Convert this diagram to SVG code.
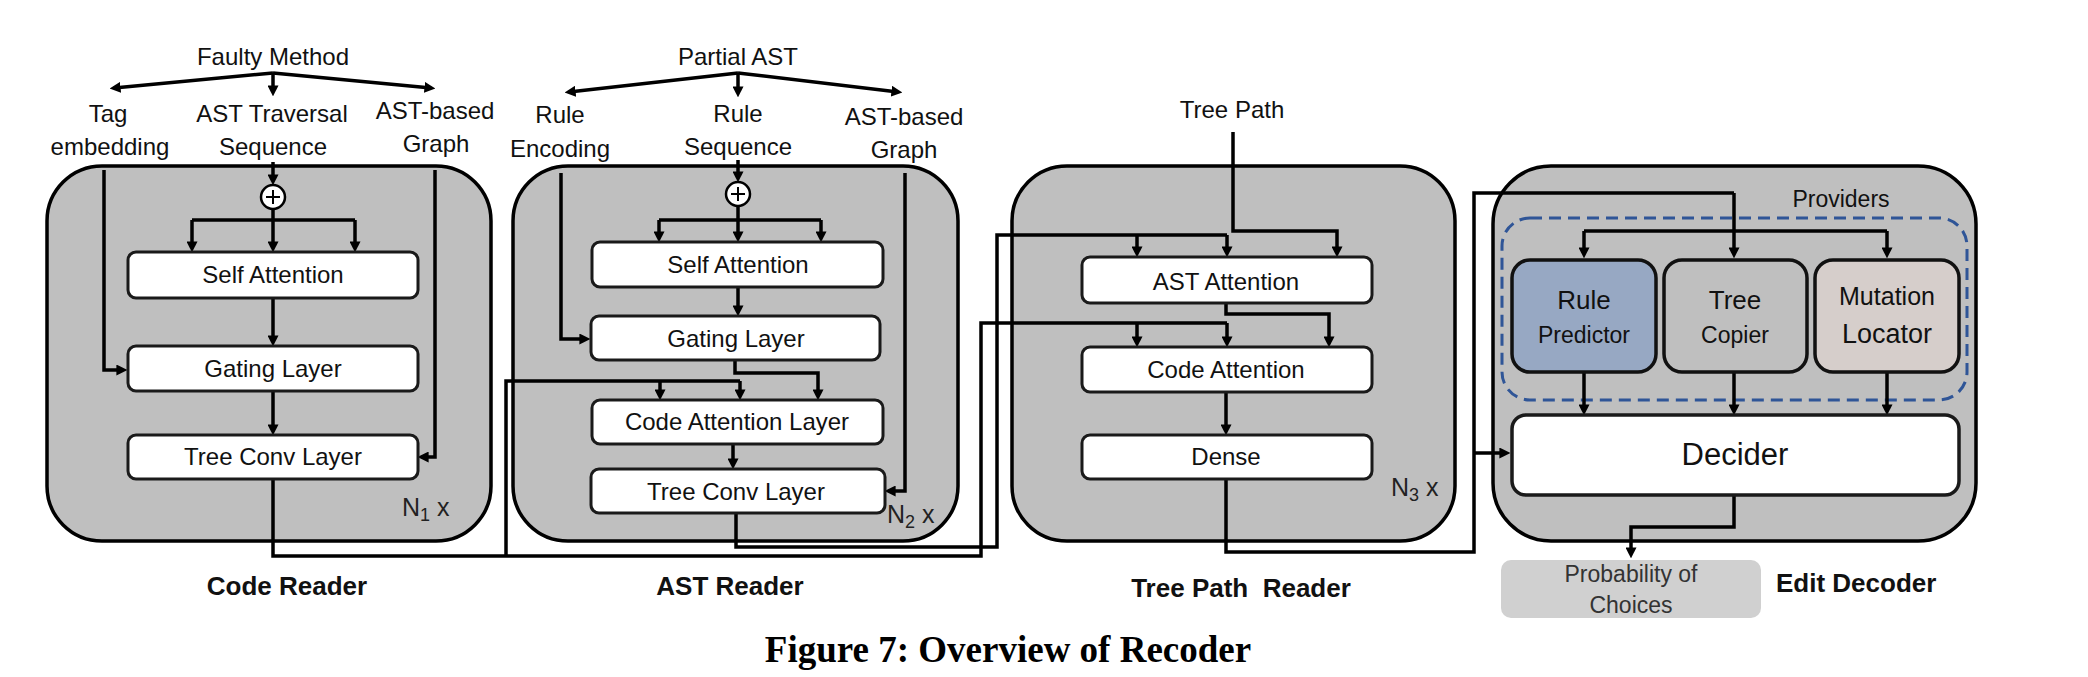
<svg xmlns="http://www.w3.org/2000/svg" width="2088" height="677" viewBox="0 0 2088 677">
<defs>
<marker id="ah" viewBox="0 0 10 10" refX="6" refY="5" markerWidth="11" markerHeight="11" markerUnits="userSpaceOnUse" orient="auto"><path d="M0,0 L10,5 L0,10 z" fill="#000"/></marker>
<style>
.panel{fill:#bfbfbf;stroke:#000;stroke-width:3.5}
.box{fill:#fff;stroke:#1a1a1a;stroke-width:3}
.t{font-family:"Liberation Sans",Arial,sans-serif;font-size:24px;fill:#111;text-anchor:middle}
.b{font-family:"Liberation Sans",Arial,sans-serif;font-size:26px;font-weight:bold;fill:#111;text-anchor:middle}
.c{fill:none;stroke:#000;stroke-width:3.5}
.ca{fill:none;stroke:#000;stroke-width:3.5;marker-end:url(#ah)}
.n{font-family:"Liberation Sans",Arial,sans-serif;font-size:25px;fill:#222}
</style>
</defs>
<rect width="2088" height="677" fill="#fff"/>

<g id="code-reader">
<rect class="panel" x="47" y="166" width="444" height="375" rx="55"/>
<text class="n" x="402" y="516">N<tspan font-size="18" dy="5">1</tspan><tspan dy="-5"> x</tspan></text>
</g>
<g id="ast-reader">
<rect class="panel" x="513" y="166" width="445" height="375" rx="55"/>
<text class="n" x="887" y="523">N<tspan font-size="18" dy="5">2</tspan><tspan dy="-5"> x</tspan></text>
</g>
<g id="tree-path-reader">
<rect class="panel" x="1012" y="166" width="443" height="375" rx="55"/>
<text class="n" x="1391" y="496">N<tspan font-size="18" dy="5">3</tspan><tspan dy="-5"> x</tspan></text>
</g>
<g id="edit-decoder">
<rect class="panel" x="1493" y="166" width="483" height="375" rx="58"/>
</g>
<g id="providers">
<rect x="1502" y="218" width="465" height="182" rx="28" fill="none" stroke="#2f5597" stroke-width="3" stroke-dasharray="12 7"/>
<text class="t" x="1841" y="207" style="font-size:23px">Providers</text>
</g>

<g id="connectors">
<path class="ca" d="M273,73 L114,88"/>
<path class="ca" d="M273,73 L431,88"/>
<path class="ca" d="M273,73 L273,92"/>
<path class="ca" d="M273,162 L273,181"/>
<path class="c" d="M192,220 L355,220"/>
<path class="ca" d="M273,209 L273,248"/>
<path class="ca" d="M192,220 L192,248"/>
<path class="ca" d="M355,220 L355,248"/>
<path class="ca" d="M273,298 L273,342"/>
<path class="ca" d="M273,391 L273,431"/>
<path class="ca" d="M104,170 L104,370 L123,370"/>
<path class="ca" d="M435,170 L435,457 L422,457"/>
<path class="c" d="M273,479 L273,556 L981,556 L981,323 L1227,323"/>
<path class="ca" d="M1137,323 L1137,343"/>
<path class="ca" d="M1227,323 L1227,343"/>
<path class="c" d="M506,556 L506,381 L740,381"/>
<path class="ca" d="M660,381 L660,396"/>
<path class="ca" d="M740,381 L740,396"/>
<path class="ca" d="M738,73 L569,92"/>
<path class="ca" d="M738,73 L898,92"/>
<path class="ca" d="M738,73 L738,93"/>
<path class="ca" d="M738,160 L738,178"/>
<path class="c" d="M659,220 L821,220"/>
<path class="ca" d="M738,206 L738,238"/>
<path class="ca" d="M659,220 L659,238"/>
<path class="ca" d="M821,220 L821,238"/>
<path class="ca" d="M738,287 L738,312"/>
<path class="ca" d="M561,173 L561,339 L586,339"/>
<path class="ca" d="M735,360 L735,373 L818,373 L818,396"/>
<path class="ca" d="M733,444 L733,465"/>
<path class="ca" d="M905,173 L905,491 L889,491"/>
<path class="c" d="M736,513 L736,547 L997,547 L997,235 L1227,235"/>
<path class="ca" d="M1137,235 L1137,253"/>
<path class="ca" d="M1227,235 L1227,253"/>
<path class="ca" d="M1233,132 L1233,231 L1337,231 L1337,253"/>
<path class="ca" d="M1226,303 L1226,314 L1329,314 L1329,343"/>
<path class="ca" d="M1226,392 L1226,431"/>
<path class="c" d="M1226,479 L1226,552 L1474,552 L1474,193 L1734,193"/>
<path class="ca" d="M1734,193 L1734,254"/>
<path class="ca" d="M1474,453 L1506,453"/>
<path class="c" d="M1584,231 L1887,231"/>
<path class="ca" d="M1584,231 L1584,254"/>
<path class="ca" d="M1887,231 L1887,254"/>
<path class="ca" d="M1584,372 L1584,411"/>
<path class="ca" d="M1734,372 L1734,411"/>
<path class="ca" d="M1887,372 L1887,411"/>
<path class="ca" d="M1734,495 L1734,527 L1631,527 L1631,554"/>
</g>

<g id="labels">
<text class="t" x="273" y="65">Faulty Method</text>
<text class="t" x="108" y="122">Tag</text>
<text class="t" x="110" y="155">embedding</text>
<text class="t" x="272" y="122">AST Traversal</text>
<text class="t" x="273" y="155">Sequence</text>
<text class="t" x="435" y="119">AST-based</text>
<text class="t" x="436" y="152">Graph</text>
<text class="t" x="738" y="65">Partial AST</text>
<text class="t" x="560" y="123">Rule</text>
<text class="t" x="560" y="157">Encoding</text>
<text class="t" x="738" y="122">Rule</text>
<text class="t" x="738" y="155">Sequence</text>
<text class="t" x="904" y="125">AST-based</text>
<text class="t" x="904" y="158">Graph</text>
<text class="t" x="1232" y="118">Tree Path</text>
<text class="b" x="287" y="595">Code Reader</text>
<text class="b" x="730" y="595">AST Reader</text>
<text class="b" x="1241" y="597" xml:space="preserve">Tree Path  Reader</text>
<text class="b" x="1776" y="592" style="text-anchor:start">Edit Decoder</text>
<text x="1008" y="662" style="font-family:'Liberation Serif','Times New Roman',serif;font-size:37px;font-weight:bold;text-anchor:middle;fill:#000">Figure 7: Overview of Recoder</text>
</g>

<g id="sum1"><circle cx="273" cy="197" r="12" fill="#fff" stroke="#000" stroke-width="2.5"/><path d="M266,197 H280 M273,190 V204" stroke="#000" stroke-width="2"/></g>
<g id="sum2"><circle cx="738" cy="194" r="12" fill="#fff" stroke="#000" stroke-width="2.5"/><path d="M731,194 H745 M738,187 V201" stroke="#000" stroke-width="2"/></g>

<g id="cr-self-attention"><rect class="box" x="128" y="252" width="290" height="46" rx="8"/><text class="t" x="273" y="283">Self Attention</text></g>
<g id="cr-gating"><rect class="box" x="128" y="346" width="290" height="45" rx="8"/><text class="t" x="273" y="377">Gating Layer</text></g>
<g id="cr-treeconv"><rect class="box" x="128" y="435" width="290" height="44" rx="8"/><text class="t" x="273" y="465">Tree Conv  Layer</text></g>

<g id="ar-self-attention"><rect class="box" x="592" y="242" width="291" height="45" rx="8"/><text class="t" x="738" y="273">Self Attention</text></g>
<g id="ar-gating"><rect class="box" x="591" y="316" width="289" height="44" rx="8"/><text class="t" x="736" y="347">Gating Layer</text></g>
<g id="ar-code-attention"><rect class="box" x="592" y="400" width="291" height="44" rx="8"/><text class="t" x="737" y="430">Code  Attention  Layer</text></g>
<g id="ar-treeconv"><rect class="box" x="591" y="469" width="294" height="44" rx="8"/><text class="t" x="736" y="500">Tree Conv  Layer</text></g>

<g id="tp-ast-attention"><rect class="box" x="1082" y="257" width="290" height="46" rx="8"/><text class="t" x="1226" y="290">AST Attention</text></g>
<g id="tp-code-attention"><rect class="box" x="1082" y="347" width="290" height="45" rx="8"/><text class="t" x="1226" y="378">Code  Attention</text></g>
<g id="tp-dense"><rect class="box" x="1082" y="435" width="290" height="44" rx="8"/><text class="t" x="1226" y="465">Dense</text></g>

<g id="rule-predictor"><rect x="1512" y="260" width="144" height="112" rx="18" fill="#97a8c3" stroke="#111" stroke-width="3.5"/><text class="t" x="1584" y="309" style="font-size:26px">Rule</text><text class="t" x="1584" y="343" style="font-size:23px">Predictor</text></g>
<g id="tree-copier"><rect x="1664" y="260" width="143" height="112" rx="18" fill="#bfbfbf" stroke="#111" stroke-width="3.5"/><text class="t" x="1735" y="309" style="font-size:26px">Tree</text><text class="t" x="1735" y="343" style="font-size:23px">Copier</text></g>
<g id="mutation-locator"><rect x="1815" y="260" width="144" height="112" rx="18" fill="#d6cecb" stroke="#111" stroke-width="3.5"/><text class="t" x="1887" y="305" style="font-size:25px">Mutation</text><text class="t" x="1887" y="343" style="font-size:27px">Locator</text></g>
<g id="decider"><rect class="box" x="1512" y="415" width="447" height="80" rx="14" style="stroke-width:3.5"/><text class="t" x="1735" y="465" style="font-size:31px">Decider</text></g>
<g id="probability"><rect x="1501" y="560" width="260" height="58" rx="10" fill="#d0d0d0"/><text class="t" x="1631" y="582" style="font-size:23px;fill:#333">Probability  of</text><text class="t" x="1631" y="613" style="font-size:23px;fill:#333">Choices</text></g>
</svg>
